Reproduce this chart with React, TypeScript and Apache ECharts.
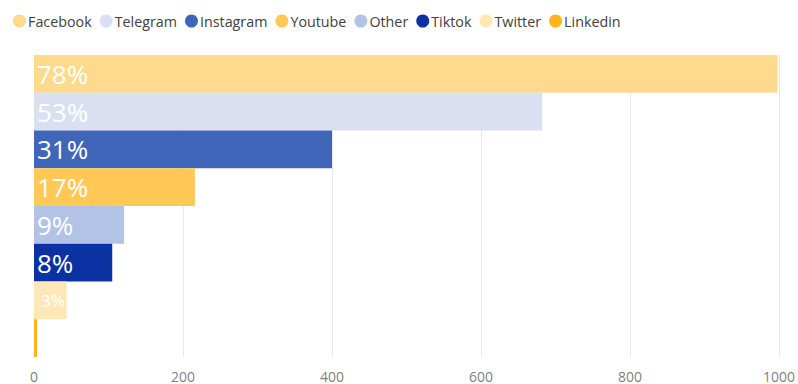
import React, { useEffect, useRef } from "react";
import * as echarts from "echarts";

const platforms = ["Facebook", "Telegram", "Instagram", "Youtube", "Other", "Tiktok", "Twitter", "Linkedin"];
const values = [998, 682, 400, 216, 121, 105, 44, 4];
const pctLabels = ["78%", "53%", "31%", "17%", "9%", "8%", "3%", ""];
const colors = ["#FFDA8D", "#DAE0F2", "#3F66B9", "#FFC857", "#B3C3E5", "#0A32A3", "#FFE7B8", "#FFB41F"];
const xTicks = [0, 200, 400, 600, 800, 1000];

const FONT = '"Segoe UI", "Open Sans", "Noto Sans", sans-serif';

export default function App() {
  const ref = useRef<HTMLDivElement>(null);
  useEffect(() => {
    if (!ref.current) return;
    const chart = echarts.init(ref.current, null, { renderer: "svg" });
    const series = platforms.map((name, i) => ({
      name,
      type: "bar",
      data: [values[i]],
      barGap: "0%",
      barCategoryGap: "0%",
      itemStyle: { color: colors[i] },
      label: {
        show: pctLabels[i] !== "",
        position: "insideLeft",
        distance: i === 6 ? 7 : 3,
        formatter: () => pctLabels[i],
        color: "#ffffff",
        fontSize: i === 6 ? 17 : 26,
        fontFamily: FONT,
      },
    }));
    chart.setOption({
      animation: false,
      textStyle: { fontFamily: FONT },
      legend: {
        data: platforms,
        left: 8,
        top: 9,
        icon: "circle",
        itemWidth: 13,
        itemHeight: 13,
        itemGap: 8,
        textStyle: { color: "#404040", fontSize: 14.3, fontFamily: FONT, padding: [0, 0, 0, -3] },
      },
      grid: { left: 34, right: 18, top: 55, bottom: 27, containLabel: false },
      xAxis: {
        type: "value",
        min: xTicks[0],
        max: xTicks[xTicks.length - 1],
        interval: 200,
        axisLine: { show: false },
        axisTick: { show: false },
        splitLine: { lineStyle: { color: "#E8E8E8", width: 1 } },
        axisLabel: {
          color: "#7F7F7F",
          fontSize: 14,
          margin: 12,
          lineHeight: 14,
          fontFamily: FONT,
          formatter: (v: number) => String(v),
        },
      },
      yAxis: {
        type: "category",
        data: [""],
        inverse: true,
        axisLine: { show: false },
        axisTick: { show: false },
        axisLabel: { show: false },
      },
      series,
    });
    return () => chart.dispose();
  }, []);
  return <div ref={ref} style={{ width: 798, height: 384, position: "absolute", left: 0, top: 0 }} />;
}
